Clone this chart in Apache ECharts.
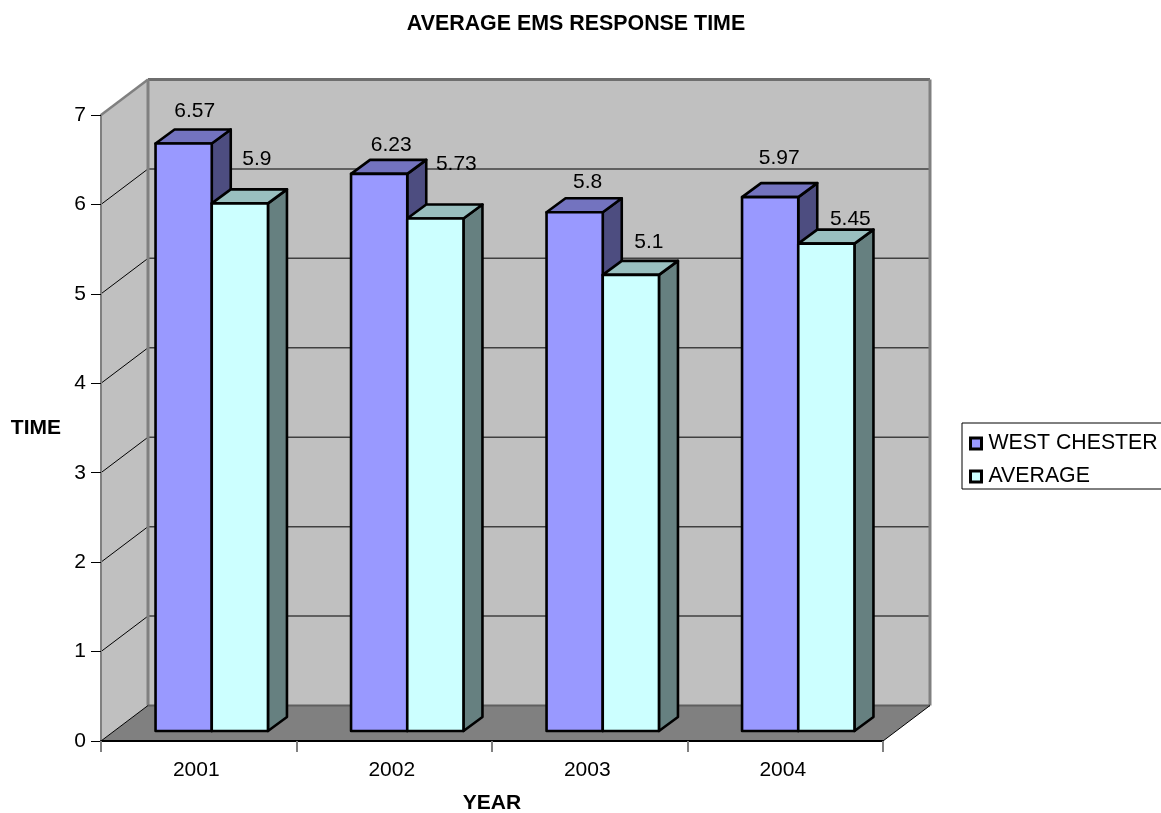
<!DOCTYPE html>
<html>
<head>
<meta charset="utf-8">
<style>html,body{margin:0;padding:0;background:#fff;overflow:hidden}#c{width:1161px;height:813px}</style>
<script src="https://cdn.jsdelivr.net/npm/echarts@6/dist/echarts.min.js"></script>
</head>
<body>
<div id="c"></div>
<script>
const years = ['2001', '2002', '2003', '2004'];
const westChester = [6.57, 6.23, 5.8, 5.97];
const average = [5.9, 5.73, 5.1, 5.45];
const yTicks = [0, 1, 2, 3, 4, 5, 6, 7];
// label nudges relative to the bar top (style only)
const westNudge = [[11, -32], [12, -29], [13, -30], [9, -39]];
const avgNudge = [[17, -44], [21, -54], [18, -33], [24, -24]];

const FONT = '"Liberation Sans", Arial, sans-serif';
const WALL = [47, -35.5];   // depth of whole plot box
const BAR_PLANE = [13, -10]; // bars' front face offset from axis plane
const BAR_DEPTH = [19, -14];

function poly(points, fill, stroke, lw) {
  return {
    type: 'polygon',
    shape: { points },
    style: { fill, stroke: stroke || 'none', lineWidth: lw || 0, lineJoin: 'round' },
    silent: true
  };
}
function seg(a, b, stroke, lw) {
  return {
    type: 'line',
    shape: { x1: a[0], y1: a[1], x2: b[0], y2: b[1] },
    style: { stroke, lineWidth: lw },
    silent: true
  };
}
function shift(p, d) { return [p[0] + d[0], p[1] + d[1]]; }

function renderBox(params, api) {
  if (params.dataIndex !== 0) return null;
  const band = api.size([1, 0])[0];
  const y0 = api.coord([0, 0])[1];
  const y7 = api.coord([0, yTicks[yTicks.length - 1]])[1];
  const xL = api.coord([0, 0])[0] - band / 2;
  const xR = api.coord([years.length - 1, 0])[0] + band / 2;
  const fl = [xL, y0], fr = [xR, y0], tl = [xL, y7];
  const bl = shift(fl, WALL), br = shift(fr, WALL), btl = shift(tl, WALL), btr = [br[0], btl[1]];
  const children = [
    poly([fl, tl, btl, bl], '#C0C0C0'),
    poly([bl, btl, btr, br], '#C0C0C0'),
    poly([fl, bl, br, fr], '#808080')
  ];
  yTicks.forEach(function (t) {
    if (t === 0 || t === yTicks[yTicks.length - 1]) return;
    const y = api.coord([0, t])[1];
    const p = [xL, y], q = shift(p, WALL);
    children.push(seg(p, q, '#000', 1));
    children.push(seg(q, [xR + WALL[0], q[1]], '#404040', 1.5));
  });
  children.push(seg(tl, btl, '#808080', 2.5));
  children.push(seg(btl, btr, '#6e6e6e', 3));
  children.push(seg(btl, bl, '#808080', 3));
  children.push(seg(btr, br, '#808080', 3));
  children.push(seg(bl, br, '#5f5f5f', 2));
  children.push(seg(fl, bl, '#000', 1));
  children.push(seg(fr, br, '#000', 1));
  return { type: 'group', children };
}

function barRenderer(sign, front, top, side, nudges) {
  return function (params, api) {
    const idx = api.value(0), val = api.value(1);
    const band = api.size([1, 0])[0];
    const w = band * 0.2875;
    const c = api.coord([idx, val]);
    const b = api.coord([idx, 0]);
    const x0 = c[0] + BAR_PLANE[0] + (sign < 0 ? -w : 0);
    const x1 = x0 + w;
    const yT = c[1] + BAR_PLANE[1];
    const yB = b[1] + BAR_PLANE[1];
    const dx = BAR_DEPTH[0], dy = BAR_DEPTH[1];
    const n = nudges[params.dataIndex];
    return {
      type: 'group',
      children: [
        poly([[x1, yT], [x1 + dx, yT + dy], [x1 + dx, yB + dy], [x1, yB]], side, '#000', 2.6),
        poly([[x0, yT], [x0 + dx, yT + dy], [x1 + dx, yT + dy], [x1, yT]], top, '#000', 2.6),
        poly([[x0, yT], [x1, yT], [x1, yB], [x0, yB]], front, '#000', 2.6),
        {
          type: 'text',
          silent: true,
          z2: 50,
          style: {
            text: String(val),
            x: (x0 + x1) / 2 + n[0],
            y: yT + n[1],
            align: 'center',
            verticalAlign: 'middle',
            fill: '#000',
            font: '21px ' + FONT
          }
        }
      ]
    };
  };
}

const toData = arr => arr.map((v, i) => [i, v]);

const chart = echarts.init(document.getElementById('c'), null, { renderer: 'canvas' });
chart.setOption({
  animation: false,
  backgroundColor: '#fff',
  title: {
    text: 'AVERAGE EMS RESPONSE TIME',
    left: 571,
    top: 9,
    textAlign: 'center',
    textStyle: { fontFamily: FONT, fontSize: 21.4, fontWeight: 'bold', color: '#000' }
  },
  grid: { left: 101, top: 115, width: 782, height: 626, containLabel: false, outerBoundsMode: 'none' },
  legend: {
    left: 962,
    top: 423,
    width: 260,
    orient: 'vertical',
    padding: [10, 60, 2, 7],
    itemGap: 12,
    itemWidth: 11,
    itemHeight: 11,
    icon: 'rect',
    backgroundColor: '#fff',
    borderColor: '#000',
    borderWidth: 1,
    selectedMode: false,
    itemStyle: { borderColor: '#000', borderWidth: 3 },
    textStyle: { fontFamily: FONT, fontSize: 21.3, color: '#000', padding: [0, 0, 0, 2] },
    data: ['WEST CHESTER', 'AVERAGE']
  },
  xAxis: {
    type: 'category',
    data: years,
    z: 6,
    name: 'YEAR',
    nameLocation: 'middle',
    nameGap: 52,
    nameTextStyle: { fontFamily: FONT, fontSize: 21, fontWeight: 'bold', color: '#000' },
    axisLine: { show: true, lineStyle: { color: '#000', width: 2 } },
    axisTick: { show: true, alignWithLabel: false, length: 11, lineStyle: { color: '#808080', width: 2 } },
    axisLabel: { margin: 19, fontFamily: FONT, fontSize: 21, color: '#000', padding: [0, 5, 0, 0] },
    splitLine: { show: false }
  },
  yAxis: {
    type: 'value',
    min: 0,
    max: 7,
    interval: 1,
    z: 6,
    name: 'TIME',
    nameLocation: 'middle',
    nameRotate: 0,
    nameGap: 40,
    nameTextStyle: { fontFamily: FONT, fontSize: 21, fontWeight: 'bold', color: '#000' },
    axisLine: { show: true, lineStyle: { color: '#808080', width: 2 } },
    axisTick: { show: true, length: 10, lineStyle: { color: '#000', width: 1 } },
    axisLabel: { margin: 15, fontFamily: FONT, fontSize: 21, color: '#000', padding: [6, 0, 0, 0] },
    splitLine: { show: false }
  },
  series: [
    {
      type: 'custom', name: 'box', z: 1, silent: true, clip: false,
      renderItem: renderBox,
      encode: { x: 0, y: 1 },
      data: [[0, 0]]
    },
    {
      type: 'custom', name: 'WEST CHESTER', z: 3, silent: true, clip: false,
      itemStyle: { color: '#9999FF' },
      renderItem: barRenderer(-1, '#9999FF', '#7373BF', '#4D4D80', westNudge),
      encode: { x: 0, y: 1 },
      data: toData(westChester)
    },
    {
      type: 'custom', name: 'AVERAGE', z: 4, silent: true, clip: false,
      itemStyle: { color: '#CCFFFF' },
      renderItem: barRenderer(1, '#CCFFFF', '#99BFBF', '#668080', avgNudge),
      encode: { x: 0, y: 1 },
      data: toData(average)
    }
  ]
});
</script>
</body>
</html>
